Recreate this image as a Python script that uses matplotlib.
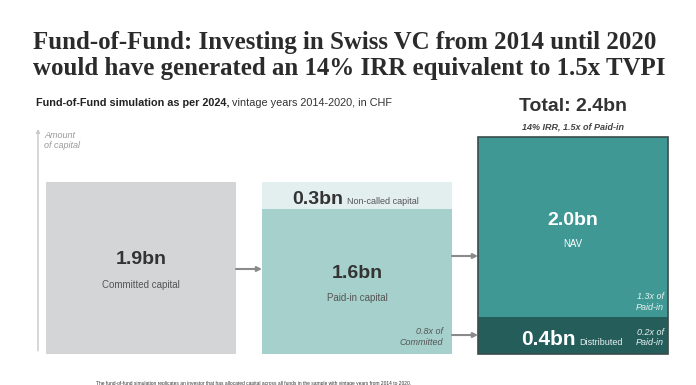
import matplotlib.pyplot as plt

# values in CHF bn
committed = 1.9
paid_in = 1.6
non_called = 0.3
nav = 2.0
distributed = 0.4
total = 2.4

bar_x = [141, 357, 573]
bar_w = 190

c_grey = "#d4d5d7"
c_noncalled = "#e3eeee"
c_paidin = "#a6d0cb"
c_nav = "#3f9893"
c_dist = "#255d5b"
c_text = "#333333"
c_arrow = "#8a8a8a"

sans = "Liberation Sans"

fig = plt.figure(figsize=(6.96, 3.85), dpi=100)
ax = fig.add_axes([0, 0, 1, 1])
ax.set_xlim(0, 696)
ax.set_ylim(-0.349, 3.919)
ax.axis("off")

# bars
ax.bar(bar_x[0], committed, width=bar_w, color=c_grey)
ax.bar(bar_x[1], paid_in, width=bar_w, color=c_paidin)
ax.bar(bar_x[1], non_called, width=bar_w, bottom=paid_in, color=c_noncalled)
ax.bar(bar_x[2], distributed, width=bar_w, color=c_dist)
ax.bar(bar_x[2], nav, width=bar_w, bottom=distributed, color=c_nav)
ax.bar(bar_x[2], total, width=bar_w, fill=False, edgecolor="#3b4b4a", linewidth=1.2)

# y axis arrow
ax.annotate("", xy=(38, 2.52), xytext=(38, 0),
            arrowprops=dict(arrowstyle="-|>", color="#c8c8c8", lw=1, mutation_scale=5))
ax.text(44, 2.47, "Amount\nof capital", ha="left", va="top", fontsize=6.5,
        style="italic", color="#999999", family=sans, linespacing=1.2)

# arrows between bars
def arrow(x0, x1, y):
    ax.annotate("", xy=(x1, y), xytext=(x0, y),
                arrowprops=dict(arrowstyle="-|>", color=c_arrow, lw=1.5, mutation_scale=7,
                                shrinkA=0, shrinkB=0))

arrow(bar_x[0] + bar_w / 2, bar_x[1] - bar_w / 2, 0.937)
arrow(bar_x[1] + bar_w / 2, bar_x[2] - bar_w / 2, 1.081)
arrow(bar_x[1] + bar_w / 2, bar_x[2] - bar_w / 2, 0.205)

# bar 1 labels
ax.text(bar_x[0], 1.037, f"{committed:.1f}bn", ha="center", va="center", fontsize=14,
        weight="bold", color=c_text, family=sans)
ax.text(bar_x[0], 0.76, "Committed capital", ha="center", va="center", fontsize=7,
        color="#555555", family=sans)

# bar 2 labels
ax.text(343, 1.655, f"{non_called:.1f}bn", ha="right", va="baseline", fontsize=14,
        weight="bold", color=c_text, family=sans)
ax.text(347, 1.655, "Non-called capital", ha="left", va="baseline", fontsize=6.5,
        color="#555555", family=sans)
ax.text(bar_x[1], 0.892, f"{paid_in:.1f}bn", ha="center", va="center", fontsize=14,
        weight="bold", color=c_text, family=sans)
ax.text(bar_x[1], 0.615, "Paid-in capital", ha="center", va="center", fontsize=7,
        color="#555555", family=sans)
ax.text(443, 0.183, "0.8x of\nCommitted", ha="right", va="center", fontsize=6.5,
        style="italic", color="#555555", family=sans, multialignment="right")

# bar 3 labels
ax.text(bar_x[2], 1.48, f"{nav:.1f}bn", ha="center", va="center", fontsize=14,
        weight="bold", color="white", family=sans)
ax.text(bar_x[2], 1.214, "NAV", ha="center", va="center", fontsize=7,
        color="white", family=sans)
ax.text(664, 0.571, "1.3x of\nPaid-in", ha="right", va="center", fontsize=6.5,
        style="italic", color="#e8f2f1", family=sans, multialignment="right")
ax.text(576, 0.094, f"{distributed:.1f}bn", ha="right", va="baseline", fontsize=15,
        weight="bold", color="white", family=sans)
ax.text(579, 0.094, "Distributed", ha="left", va="baseline", fontsize=6.5,
        color="#e8f2f1", family=sans)
ax.text(664, 0.175, "0.2x of\nPaid-in", ha="right", va="center", fontsize=6.5,
        style="italic", color="#e8f2f1", family=sans, multialignment="right")

# total header
ax.text(bar_x[2], 2.74, f"Total: {total:.1f}bn", ha="center", va="center", fontsize=14,
        weight="bold", color=c_text, family=sans)
ax.text(bar_x[2], 2.509, "14% IRR, 1.5x of Paid-in", ha="center", va="center", fontsize=6.5,
        weight="bold", style="italic", color="#444444", family=sans)

# title, sized so the first line spans about 620 px
title_lines = ["Fund-of-Fund: Investing in Swiss VC from 2014 until 2020",
               "would have generated an 14% IRR equivalent to 1.5x TVPI"]
t1 = fig.text(33 / 696, 1 - 49 / 385, title_lines[0], ha="left", va="baseline",
              fontsize=18, weight="bold", color="#2b2b2b", family="Liberation Serif")
fig.canvas.draw()
w = t1.get_window_extent().width
size = 18 * 622 / w
t1.set_fontsize(size)
fig.text(33 / 696, 1 - 75 / 385, title_lines[1], ha="left", va="baseline",
         fontsize=size, weight="bold", color="#2b2b2b", family="Liberation Serif")

# subtitle
t = fig.text(36 / 696, 1 - 106 / 385, "Fund-of-Fund simulation as per 2024,", ha="left",
             va="baseline", fontsize=7.8, weight="bold", color="#222222", family=sans)
fig.canvas.draw()
bb = t.get_window_extent()
fig.text(bb.x1 / 696 + 0.004, 1 - 106 / 385, "vintage years 2014-2020, in CHF", ha="left",
         va="baseline", fontsize=7.8, color="#333333", family=sans)

# footnote
fig.text(96 / 696, 1 - 383 / 385,
         "The fund-of-fund simulation replicates an investor that has allocated capital "
         "across all funds in the sample with vintage years from 2014 to 2020.",
         ha="left", va="center", fontsize=3.5, color="#333333", family=sans)

fig.savefig("out.png", dpi=100)
